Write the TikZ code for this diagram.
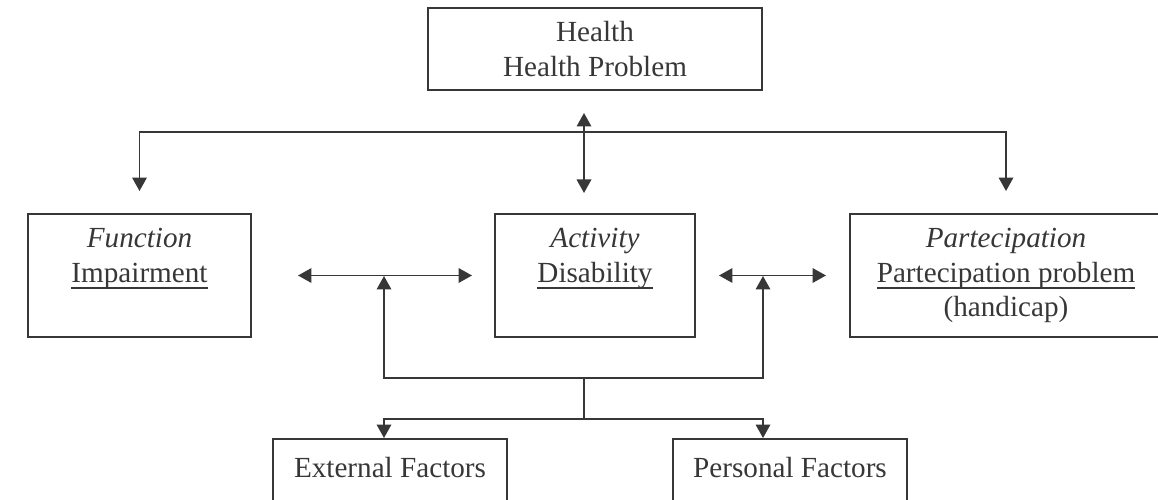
\documentclass[tikz,border=0pt]{standalone}
\usepackage{fontspec}
\setmainfont{Liberation Serif}
\usetikzlibrary{arrows.meta}
\definecolor{inkgray}{RGB}{55,55,55}
\newcommand{\ulword}[1]{\leavevmode\setbox0\hbox{#1}\rlap{\rule[-4pt]{\wd0}{1pt}}\box0}

\begin{document}
\begin{tikzpicture}[node distance=4.53cm, auto,
  >={Triangle[width=0.29cm,length=0.27cm]},
  box/.style={draw=inkgray, line width=1.1pt, align=center, text=inkgray,
    font=\fontsize{16.6}{19.4}\selectfont, inner sep=0pt},
  link/.style={draw=inkgray, line width=1.1pt}]

  \useasboundingbox (0,0) rectangle (23.16,-10);

  % Nodes
  \node (health) [box, minimum width=6.68cm, minimum height=1.64cm] at (11.9,-0.98) {Health\\ Health Problem};
  \node (activity) [box, below of=health, minimum width=4cm, minimum height=2.46cm] {\textit{Activity}\\ \ulword{Disability}\\ \vphantom{(h)}};
  \node (function) [box, node distance=9.11cm, left of=activity, minimum width=4.46cm, minimum height=2.46cm] {\textit{Function}\\ \ulword{Impairment}\\ \vphantom{(h)}};
  \node (partecipation) [box, node distance=8.22cm, right of=activity, minimum width=6.24cm, minimum height=2.46cm] {\textit{Partecipation}\\ \ulword{Partecipation problem}\\ (handicap)};
  \node (external) [box, minimum width=4.68cm, minimum height=2.04cm] at (7.8,-9.8) {External Factors\\ \strut};
  \node (personal) [box, minimum width=4.68cm, minimum height=2.04cm] at (15.8,-9.8) {Personal Factors\\ \strut};

  % Junctions
  \coordinate (hub) at (11.68,-2.64);
  \coordinate (healthin) at (11.68,-2.26);
  \coordinate (activityin) at (11.68,-3.86);
  \coordinate (lj) at (7.68,-5.52);
  \coordinate (rj) at (15.26,-5.52);
  \coordinate (merge) at (11.68,-7.56);
  \coordinate (fork) at (11.68,-8.38);

  % Arrows
  \draw[link, ->, shorten >=0.44cm] (hub) -| (function.north);
  \draw[link, ->, shorten >=0.44cm] (hub) -| (partecipation.north);
  \draw[link, <->] (healthin) -- (activityin);
  \draw[link, <->, shorten <=0.92cm, shorten >=0.44cm] (function.east) -- (activity.west);
  \draw[link, <->, shorten <=0.46cm, shorten >=0.46cm] (activity.east) -- (partecipation.west);
  \draw[link, ->] (merge) -| (lj);
  \draw[link, ->] (merge) -| (rj);
  \draw[link] (merge) -- (fork);
  \draw[link, ->] (fork) -| (lj |- external.north);
  \draw[link, ->] (fork) -| (rj |- personal.north);

\end{tikzpicture}
\end{document}
